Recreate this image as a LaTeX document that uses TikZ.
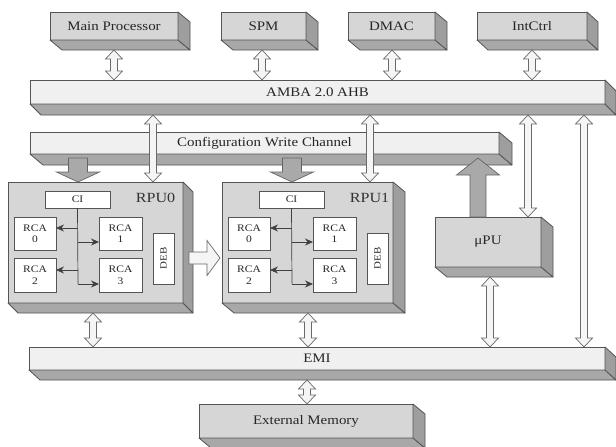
\documentclass[tikz,border=0pt]{standalone}
\usepackage{fontspec}
\setmainfont{Liberation Serif}[FakeStretch=1.15]
\usetikzlibrary{calc,arrows.meta}
\definecolor{linec}{HTML}{555555}
\definecolor{frontc}{HTML}{D6D6D6}
\definecolor{barc}{HTML}{F0F0F0}
\definecolor{bottomc}{HTML}{A8A8A8}
\definecolor{sidec}{HTML}{9E9E9E}
\definecolor{hollowc}{HTML}{F5F5F5}
\definecolor{hollowline}{HTML}{6A6A6A}
\definecolor{fatc}{HTML}{A9A9A9}
\definecolor{fatline}{HTML}{666666}
\definecolor{tipc}{HTML}{404040}
\newcommand\extrude[3]{%
  \filldraw[draw=linec, fill=bottomc, line width=0.8pt, line join=round]
    (#1.south west) -- ($(#1.south west)+(#2,#3)$) -- ($(#1.south east)+(#2,#3)$) -- (#1.south east) -- cycle;
  \filldraw[draw=linec, fill=sidec, line width=0.8pt, line join=round]
    (#1.north east) -- ($(#1.north east)+(#2,#3)$) -- ($(#1.south east)+(#2,#3)$) -- (#1.south east) -- cycle;}
\newcommand\dblarrow[2]{%
  \coordinate (da@a) at ($(#1)!9pt!(#2)$);
  \coordinate (da@b) at ($(#2)!9pt!(#1)$);
  \filldraw[hollow] (#1) -- ($(da@a)!8.5pt!90:(#2)$) -- ($(da@a)!3.5pt!90:(#2)$)
    -- ($(da@b)!3.5pt!-90:(#1)$) -- ($(da@b)!8.5pt!-90:(#1)$) -- (#2)
    -- ($(da@b)!8.5pt!90:(#1)$) -- ($(da@b)!3.5pt!90:(#1)$)
    -- ($(da@a)!3.5pt!-90:(#2)$) -- ($(da@a)!8.5pt!-90:(#2)$) -- cycle;}
\newcommand\fatarrow[6]{%
  \coordinate (fa@b) at ($(#3)!#6!(#2)$);
  \filldraw[#1] ($(#2)!#4!90:(#3)$) -- ($(fa@b)!#4!90:(#3)$) -- ($(fa@b)!#5!90:(#3)$) -- (#3)
    -- ($(fa@b)!#5!-90:(#3)$) -- ($(fa@b)!#4!-90:(#3)$) -- ($(#2)!#4!-90:(#3)$) -- cycle;}
\begin{document}
\begin{tikzpicture}[x=1pt,y=-1pt,
  face/.style={draw=linec, line width=0.8pt, inner sep=0pt, outer sep=0pt, anchor=north west,
    font=\fontsize{13}{15}\selectfont, text=black!85},
  box3d/.style={face, fill=frontc},
  bar3d/.style={face, fill=barc},
  inbox/.style={draw=linec, fill=white, line width=0.7pt, inner sep=0pt, outer sep=0pt,
    anchor=north west, align=center, font=\fontsize{10}{11.5}\selectfont, text=black!85},
  hollow/.style={draw=hollowline, fill=hollowc, line width=0.7pt, line join=miter},
  fat/.style={draw=fatline, fill=fatc, line width=0.7pt},
  branch/.style={draw=tipc, line width=0.7pt, -{Stealth[length=8pt,width=7pt]}},
  rpulabel/.style={font=\fontsize{14}{16}\selectfont, text=black!80, inner sep=0pt}]
\useasboundingbox (0,0) rectangle (616,447);
\fill[white] (0,0) rectangle (616,447);

% top boxes
\node[box3d, minimum width=128pt, minimum height=28pt] (mp) at (50,12) {Main Processor};
\extrude{mp}{12}{10}
\node[box3d, minimum width=85pt, minimum height=28pt] (spm) at (221,12) {SPM};
\extrude{spm}{12}{10}
\node[box3d, minimum width=87pt, minimum height=28pt] (dmac) at (348,12) {DMAC};
\extrude{dmac}{12}{10}
\node[box3d, minimum width=110pt, minimum height=28pt] (intc) at (477,12) {IntCtrl};
\extrude{intc}{11}{10}

% AMBA bus
\node[bar3d, minimum width=575pt, minimum height=24pt] (amba) at (30,80) {AMBA 2.0 AHB};
\extrude{amba}{11}{11}

% configuration write channel
\node[bar3d, minimum width=469pt, minimum height=22pt] (cfg) at (30,132) {Configuration Write Channel};
\extrude{cfg}{13}{11}

% RPUs
\node[box3d, minimum width=175pt, minimum height=121pt] (rpu0) at (8,182) {};
\extrude{rpu0}{10}{10}
\node[box3d, minimum width=171pt, minimum height=121pt] (rpu1) at (222,182) {};
\extrude{rpu1}{12}{10}

\foreach \p/\ox/\lab in {0/8/RPU0, 1/222/RPU1}{
  \node[inbox, minimum width=65pt, minimum height=17pt] (ci\p) at (\ox+37,191) {CI};
  \node[rpulabel] (lab\p) at (\ox+147.5,198) {\lab};
  \node[inbox, minimum width=42pt, minimum height=33pt] (rcaa\p) at (\ox+6,217) {RCA\\0};
  \node[inbox, minimum width=43pt, minimum height=33pt] (rcab\p) at (\ox+91,217) {RCA\\1};
  \node[inbox, minimum width=42pt, minimum height=34pt] (rcac\p) at (\ox+6,258) {RCA\\2};
  \node[inbox, minimum width=43pt, minimum height=34pt] (rcad\p) at (\ox+91,258) {RCA\\3};
  \node[inbox, minimum width=21pt, minimum height=51pt] (deb\p) at (\ox+145,233) {};
  \node[rotate=90, font=\fontsize{9.5}{11}\selectfont, text=black!85, inner sep=0pt] (debt\p) at (deb\p.center) {DEB};
  \coordinate (t\p) at (\ox+70,284);
  \draw[draw=tipc, line width=0.7pt] (ci\p.south) -- (t\p);
  \coordinate (ba\p) at (\ox+70,228);
  \coordinate (bb\p) at (\ox+70,242);
  \coordinate (bc\p) at (\ox+70,270);
  \draw[branch] (ba\p) -- (ba\p -| rcaa\p.east);
  \draw[branch] (bb\p) -- (bb\p -| rcab\p.west);
  \draw[branch] (bc\p) -- (bc\p -| rcac\p.east);
  \draw[branch] (t\p) -- (t\p -| rcad\p.west);
}

% muPU
\node[box3d, minimum width=106pt, minimum height=50pt] (mupu) at (435,217) {μPU};
\extrude{mupu}{12}{10}

% EMI
\node[bar3d, minimum width=576pt, minimum height=23pt] (emi) at (29,347) {EMI};
\extrude{emi}{11}{10}

% External memory
\node[box3d, minimum width=214pt, minimum height=34pt] (ext) at (199,404) {External Memory};
\extrude{ext}{12}{10}

% coordinates for connectors
\coordinate (mpA) at (114,50);   \coordinate (mpB) at (114,80);
\coordinate (spmA) at (262,50);  \coordinate (spmB) at (262,80);
\coordinate (dmA) at (392,50);   \coordinate (dmB) at (392,80);
\coordinate (icA) at (532,50);   \coordinate (icB) at (532,80);
\coordinate (r0A) at (153,115);  \coordinate (r0B) at (153,182);
\coordinate (r1A) at (370,115);  \coordinate (r1B) at (370,182);
\coordinate (muA) at (528,115);  \coordinate (muB) at (528,217);
\coordinate (emA) at (584,115);  \coordinate (emB) at (584,347);
\coordinate (e0A) at (93,313);   \coordinate (e0B) at (93,347);
\coordinate (e1A) at (308,313);  \coordinate (e1B) at (308,347);
\coordinate (e2A) at (490,277);  \coordinate (e2B) at (490,347);
\coordinate (exA) at (307,380);  \coordinate (exB) at (307,404);

\dblarrow{mpA}{mpB}
\dblarrow{spmA}{spmB}
\dblarrow{dmA}{dmB}
\dblarrow{icA}{icB}
\dblarrow{r0A}{r0B}
\dblarrow{r1A}{r1B}
\dblarrow{muA}{muB}
\dblarrow{emA}{emB}
\dblarrow{e0A}{e0B}
\dblarrow{e1A}{e1B}
\dblarrow{e2A}{e2B}
\dblarrow{exA}{exB}

% fat gray arrows
\coordinate (c0T) at (78,158);  \coordinate (c0H) at (78,182);
\coordinate (c1T) at (292,158); \coordinate (c1H) at (292,182);
\coordinate (mT) at (478,217);  \coordinate (mH) at (478,158);
\fatarrow{fat}{c0T}{c0H}{9.5pt}{21.5pt}{10pt}
\fatarrow{fat}{c1T}{c1H}{9.5pt}{21.5pt}{10pt}
\fatarrow{fat}{mT}{mH}{8pt}{21.5pt}{17pt}

% RPU0 -> RPU1 hollow arrow
\coordinate (hT) at (189,258); \coordinate (hH) at (220,258);
\fatarrow{hollow}{hT}{hH}{6pt}{17.5pt}{13pt}
\end{tikzpicture}
\end{document}
